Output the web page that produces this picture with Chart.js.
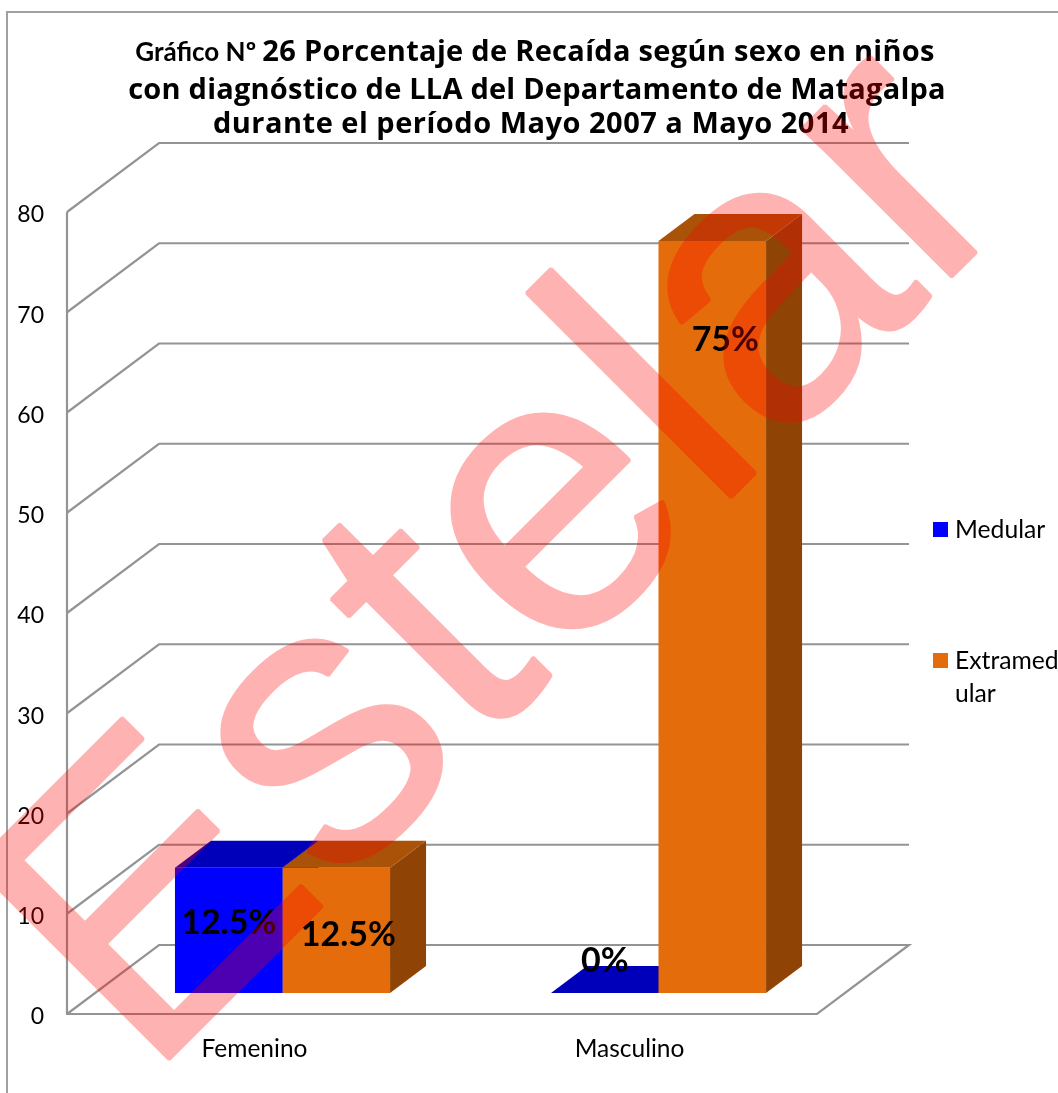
<!DOCTYPE html>
<html lang="es">
<head>
<meta charset="utf-8">
<title>Gráfico Nº 26</title>
<script src="https://cdn.jsdelivr.net/npm/chart.js@4"></script>
<style>
html,body{margin:0;padding:0;background:#fff}
canvas{display:block}
svg.f{position:absolute;width:0;height:0}
</style>
</head>
<body>
<svg class="f" aria-hidden="true"><filter id="heavier" x="-20%" y="-20%" width="140%" height="140%" color-interpolation-filters="sRGB"><feMorphology operator="dilate" radius="1"/></filter></svg>
<canvas id="c" width="1058" height="1093"></canvas>
<script>
const categories = ["Femenino", "Masculino"];
const medular = [12.5, 0];
const extramedular = [12.5, 75];
const medularLabels = ["12.5%", "0%"];
const extramedularLabels = ["12.5%", "75%"];
const yTicks = [0, 10, 20, 30, 40, 50, 60, 70, 80];
const watermark = "Estelar";
const titleRuns = [
  [["Gráfico Nº ", "small"], ["26 Porcentaje de Recaída según sexo en niños", "big"]],
  [["con diagnóstico de LLA del Departamento de Matagalpa", "big"]],
  [["durante el período Mayo 2007 a Mayo 2014", "big"]]
];

const GRID = "#949494";
const DEPTH = {x: 36, y: -27};
const WALL = {x: 92, y: -69};
const FACES = [
  {front: "#0000ff", top: "#0000bb", side: "#00008f"},
  {front: "#e46c0a", top: "#a95208", side: "#8f4406"}
];
const LABEL_OFFSETS = [
  [[0, 55], [0, -32]],
  [[12, 67], [13, 99]]
];

function poly(ctx, pts, fill) {
  ctx.beginPath();
  pts.forEach((p, i) => i ? ctx.lineTo(p[0], p[1]) : ctx.moveTo(p[0], p[1]));
  ctx.closePath();
  ctx.fillStyle = fill;
  ctx.fill();
}

const scene = {
  id: "scene",
  beforeDraw(chart) {
    const s = chart.scales.y;
    if (!s._nudged) {
      s.getLabelItems(chart.chartArea).forEach(it => { it.textOffset += 3; });
      s._nudged = true;
    }
  },
  beforeDatasetsDraw(chart) {
    const {ctx, chartArea: a, scales: {y}} = chart;
    ctx.save();
    ctx.strokeStyle = GRID;
    ctx.lineWidth = 2.2;
    ctx.lineJoin = "miter";
    yTicks.forEach(v => {
      const py = y.getPixelForValue(v);
      ctx.beginPath();
      ctx.moveTo(a.left, py);
      ctx.lineTo(a.left + WALL.x, py + WALL.y);
      ctx.lineTo(a.right + WALL.x, py + WALL.y);
      if (v === 0) {
        ctx.lineTo(a.right, py);
        ctx.lineTo(a.left, py);
      }
      ctx.stroke();
    });
    ctx.beginPath();
    ctx.moveTo(a.left, y.getPixelForValue(80));
    ctx.lineTo(a.left, y.getPixelForValue(0) + 1);
    ctx.stroke();
    // depth faces of each bar
    chart.data.datasets.forEach((ds, d) => {
      chart.getDatasetMeta(d).data.forEach(bar => {
        const l = bar.x - bar.width / 2, r = bar.x + bar.width / 2;
        const t = bar.y, b = bar.base;
        poly(ctx, [[r, t], [r + DEPTH.x, t + DEPTH.y], [r + DEPTH.x, b + DEPTH.y], [r, b]], FACES[d].side);
        poly(ctx, [[l, t], [r, t], [r + DEPTH.x, t + DEPTH.y], [l + DEPTH.x, t + DEPTH.y]], FACES[d].top);
      });
    });
    ctx.restore();
  },
  afterDraw(chart) {
    const {ctx, width, height} = chart;
    ctx.save();
    // frame
    ctx.strokeStyle = "#a0a0a0";
    ctx.lineWidth = 2;
    ctx.strokeRect(7, 12, width + 10, height + 10);

    // title
    ctx.fillStyle = "#000";
    ctx.textBaseline = "alphabetic";
    ctx.textAlign = "left";
    const fonts = {small: "bold 26px Lato", big: "bold 29px 'Open Sans'"};
    const spacing = ["0.3px", "0.22px", "0.5px"];
    const centers = [535, 537, 531], bases = [61, 99, 133];
    titleRuns.forEach((runs, i) => {
      const sp = k => k === "big" ? spacing[i] : "0px";
      let w = 0;
      runs.forEach(r => { ctx.font = fonts[r[1]]; ctx.letterSpacing = sp(r[1]); w += ctx.measureText(r[0]).width; });
      let x = centers[i] - w / 2;
      runs.forEach(r => {
        ctx.font = fonts[r[1]];
        ctx.letterSpacing = sp(r[1]);
        ctx.fillText(r[0], x, bases[i]);
        x += ctx.measureText(r[0]).width;
      });
    });
    ctx.letterSpacing = "0px";

    // data labels
    ctx.font = "bold 34px Lato";
    ctx.textAlign = "center";
    ctx.textBaseline = "middle";
    [medularLabels, extramedularLabels].forEach((labels, d) => {
      chart.getDatasetMeta(d).data.forEach((bar, i) => {
        const o = LABEL_OFFSETS[d][i];
        ctx.fillText(labels[i], bar.x + o[0], bar.y + o[1]);
      });
    });

    // legend
    ctx.font = "24.7px Lato";
    ctx.textAlign = "left";
    const ly = [530, 661];
    chart.data.datasets.forEach((ds, d) => {
      ctx.fillStyle = FACES[d].front;
      ctx.fillRect(933, ly[d] - 8, 15, 15);
      ctx.fillStyle = "#000";
      const txt = ds.label;
      if (ctx.measureText(txt).width > 103) {
        ctx.fillText(txt.slice(0, 8), 955, ly[d]);
        ctx.fillText(txt.slice(8), 955, ly[d] + 33);
      } else {
        ctx.fillText(txt, 955, ly[d]);
      }
    });

    // watermark
    ctx.filter = "url(#heavier)";
    ctx.translate(146, 1083);
    ctx.rotate(-Math.PI / 4);
    ctx.font = "400px 'Liberation Sans'";
    ctx.textAlign = "left";
    ctx.textBaseline = "alphabetic";
    ctx.fillStyle = "rgba(255,0,0,0.3)";
    ctx.fillText(watermark, 0, 0);
    ctx.restore();
  }
};

new Chart(document.getElementById("c"), {
  type: "bar",
  plugins: [scene],
  data: {
    labels: categories,
    datasets: [
      {label: "Medular", data: medular.map((v, i) => ({x: i, y: v})), xAxisID: "x2", yAxisID: "y2",
       backgroundColor: FACES[0].front, borderWidth: 0, categoryPercentage: 0.572, barPercentage: 1},
      {label: "Extramedular", data: extramedular.map((v, i) => ({x: i, y: v})), xAxisID: "x2", yAxisID: "y2",
       backgroundColor: FACES[1].front, borderWidth: 0, categoryPercentage: 0.572, barPercentage: 1}
    ]
  },
  options: {
    responsive: false,
    animation: false,
    layout: {padding: {top: 212, right: 241, left: 0, bottom: 0}},
    plugins: {legend: {display: false}, title: {display: false}, tooltip: {enabled: false}},
    scales: {
      x: {
        type: "category",
        position: "bottom",
        grid: {display: false, drawTicks: false},
        border: {display: false},
        ticks: {color: "#000", font: {family: "Lato", size: 24.5}, padding: 20, maxRotation: 0},
        afterFit(s) { s.height = 79; }
      },
      y: {
        type: "linear",
        position: "left",
        min: 0, max: 80,
        grid: {display: false, drawTicks: false},
        border: {display: false},
        ticks: {color: "#000", font: {family: "Lato", size: 23}, padding: 23, stepSize: 10},
        afterFit(s) { s.width = 67; }
      },
      x2: {type: "linear", display: false, min: -0.5731, max: 1.4215, offset: false,
           ticks: {stepSize: 1, includeBounds: false}},
      y2: {type: "linear", display: false, min: -2.095, max: 77.905}
    }
  }
});
</script>
</body>
</html>
